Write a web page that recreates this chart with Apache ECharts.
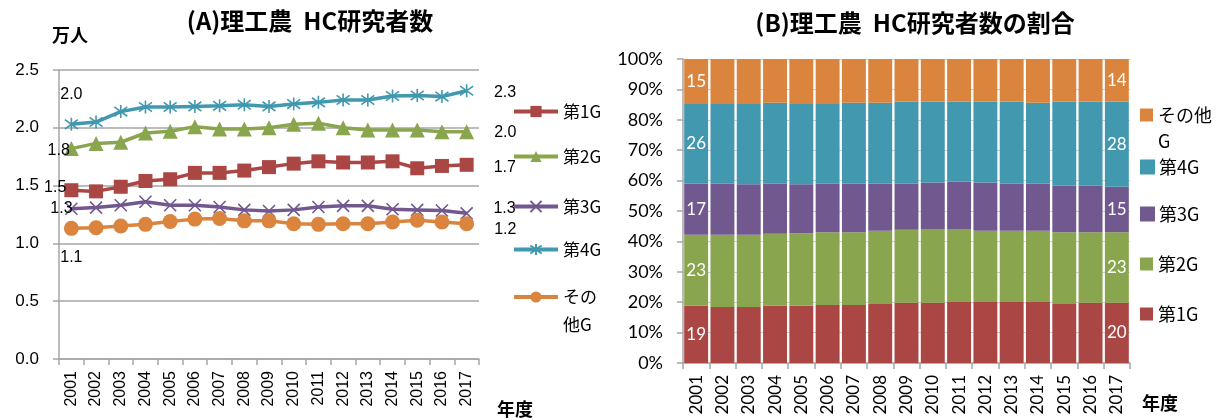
<!DOCTYPE html>
<html><head><meta charset="utf-8">
<script src="https://cdn.jsdelivr.net/npm/echarts@6/dist/echarts.min.js"></script>
<style>html,body{margin:0;padding:0;background:#fff}#c{width:1223px;height:420px}</style>
</head><body><div id="c"></div>
<script>
const years = ['2001','2002','2003','2004','2005','2006','2007','2008','2009','2010','2011','2012','2013','2014','2015','2016','2017'];
// (A) counts, 万人
const g1 = [1.46,1.45,1.49,1.54,1.555,1.61,1.61,1.63,1.66,1.69,1.71,1.70,1.70,1.71,1.65,1.67,1.68];
const g2 = [1.82,1.865,1.875,1.955,1.97,2.01,1.99,1.99,2.0,2.03,2.04,2.0,1.98,1.98,1.98,1.965,1.965];
const g3 = [1.30,1.31,1.33,1.36,1.33,1.33,1.315,1.29,1.28,1.29,1.315,1.325,1.325,1.295,1.29,1.285,1.26];
const g4 = [2.03,2.05,2.14,2.18,2.18,2.185,2.19,2.20,2.185,2.205,2.22,2.24,2.24,2.275,2.28,2.27,2.32];
const gOther = [1.13,1.135,1.15,1.165,1.19,1.21,1.215,1.195,1.195,1.17,1.165,1.17,1.17,1.185,1.2,1.185,1.17];
const yTicksA = [0,0.5,1.0,1.5,2.0,2.5];
// (B) shares, %
const p1 = [18.8,18.4,18.4,18.8,18.8,19.1,19.1,19.4,19.8,19.8,20.1,20.1,20.1,20.1,19.4,19.8,19.8];
const p2 = [23.4,23.8,23.8,23.7,23.9,23.9,23.9,24.1,24.0,24.3,24.0,23.4,23.4,23.4,23.6,23.2,23.2];
const p3 = [16.8,16.8,16.6,16.5,16.1,16.0,16.0,15.5,15.2,15.3,15.5,15.9,15.5,15.5,15.3,15.3,15.0];
const p4 = [26.2,26.2,26.4,26.6,26.4,26.2,26.6,26.6,27.0,26.6,26.4,26.6,27.0,26.6,27.7,27.7,28.0];
const p5 = [14.8,14.8,14.8,14.4,14.8,14.8,14.4,14.4,14.0,14.0,14.0,14.0,14.0,14.4,14.0,14.0,14.0];
const names = ['第1G','第2G','第3G','第4G','その他G'];

const C = {g1:'#AA4643', g2:'#89A54E', g3:'#71588F', g4:'#4198AF', o:'#DB843D'};
const NUM = 'Liberation Sans, Arial, sans-serif';
const JP = 'Noto Sans CJK JP, sans-serif';
const LAT = 'Lato, Liberation Sans, sans-serif';
const last = years.length - 1;

function lineData(arr, firstLbl, lastLbl) {
  return arr.map((v, i) => {
    if (i === 0) return {value: v, label: Object.assign({show: true}, firstLbl)};
    if (i === last) return {value: v, label: Object.assign({show: true}, lastLbl)};
    return v;
  });
}
const lblBase = {color:'#000', fontFamily: NUM, fontSize: 16, formatter: p => p.value.toFixed(1)};
function lineSeries(name, arr, color, symbol, size, firstLbl, lastLbl, extraItem) {
  return {
    name, type:'line', xAxisIndex:0, yAxisIndex:0,
    data: lineData(arr, firstLbl, lastLbl),
    symbol, symbolSize: size, showAllSymbol: true,
    lineStyle: {color, width: 3.5},
    itemStyle: Object.assign({color}, extraItem || {}),
    label: Object.assign({show:false}, lblBase),
    z: 3
  };
}
const xPath = 'path://M0,0L10,10M10,0L0,10';
const starPath = 'path://M0,0L10,10M10,0L0,10M5,-2L5,12';

const series = [
  lineSeries('第1G', g1, C.g1, 'rect', 14, {position:'left', distance:-2, offset:[0,-3]}, {position:'right', distance:20, offset:[0,3]}),
  lineSeries('第2G', g2, C.g2, 'triangle', 15, {position:'left', distance:-6, offset:[0,2]}, {position:'right', distance:20, offset:[0,1]}),
  lineSeries('第3G', g3, C.g3, xPath, 12, {position:'left', distance:-8, offset:[0,0]}, {position:'right', distance:20, offset:[0,-5]}, {borderColor: C.g3, borderWidth: 1.6}),
  lineSeries('第4G', g4, C.g4, starPath, 13, {position:'top', distance:14, offset:[0,0]}, {position:'right', distance:20, offset:[0,2]}, {borderColor: C.g4, borderWidth: 1.6}),
  lineSeries('その他G', gOther, C.o, 'circle', 15, {position:'bottom', distance:14, offset:[0,0]}, {position:'right', distance:20, offset:[0,6]})
];

function barData(arr) {
  return arr.map((v, i) => (i === 0 || i === last) ? {value: v, label: {show: true}} : v);
}
const pArr = [p1,p2,p3,p4,p5];
const bcol = [C.g1, C.g2, C.g3, C.g4, C.o];
pArr.forEach((arr, k) => {
  series.push({
    name: names[k], type:'bar', stack:'share', xAxisIndex:1, yAxisIndex:1,
    data: barData(arr), barCategoryGap: '9%',
    itemStyle: {color: bcol[k]},
    label: {show:false, position:'inside', color:'#fff', fontFamily: LAT, fontSize: 17, formatter: p => Math.round(p.value)}
  });
});

// legends: one component per item for precise placement
const legends = [];
const legA = [['第1G',110],['第2G',155],['第3G',205],['第4G',248]];
legA.forEach(([n, y]) => legends.push({
  data:[n], left: 512, top: y - 7, padding: 0, itemWidth: 44, itemHeight: 14, itemGap: 4,
  lineStyle: {width: 4},
  textStyle: {fontFamily: JP, fontSize: 17, color:'#000'}, selectedMode: false
}));
legends.push({
  data:['その他G'], left: 512, top: 297 - 42, padding: 0, itemWidth: 44, itemHeight: 14, itemGap: 4,
  lineStyle: {width: 4},
  formatter: () => '\nその\n他G',
  textStyle: {fontFamily: JP, fontSize: 17, color:'#000', lineHeight: 28}, selectedMode: false
});
legends.push({
  data:[{name:'その他G', icon:'rect'}], left: 1140, top: 115 - 39, padding: 0, itemWidth: 13, itemHeight: 13, itemGap: 5,
  formatter: () => '\nその他\nG',
  textStyle: {fontFamily: JP, fontSize: 18, color:'#000', lineHeight: 26}, selectedMode: false
});
[['第4G',165],['第3G',212],['第2G',262],['第1G',312]].forEach(([n, y]) => legends.push({
  data:[{name: n, icon:'rect'}], left: 1140, top: y - 7, padding: 0, itemWidth: 13, itemHeight: 13, itemGap: 5,
  textStyle: {fontFamily: JP, fontSize: 18, color:'#000'}, selectedMode: false
}));

const gridLine = '#A6A6A6';
const option = {
  animation: false,
  backgroundColor: '#fff',
  grid: [
    {left: 59, top: 70, width: 420, height: 289},
    {left: 683, top: 59, width: 447, height: 304}
  ],
  legend: legends,
  xAxis: [
    {type:'category', gridIndex:0, data: years, boundaryGap: true,
     axisLine:{lineStyle:{color: gridLine, width:1.5}},
     axisTick:{show:true, interval:0, length:6, lineStyle:{color: gridLine, width:1.5}},
     axisLabel:{interval:0, rotate:90, margin:12, color:'#000', fontFamily: NUM, fontSize: 16}},
    {type:'category', gridIndex:1, data: years, boundaryGap: true,
     axisLine:{lineStyle:{color: gridLine, width:1.5}},
     axisTick:{show:true, interval:0, length:6, lineStyle:{color: gridLine, width:1.5}},
     axisLabel:{interval:0, rotate:90, margin:12, color:'#000', fontFamily: LAT, fontSize: 17}}
  ],
  yAxis: [
    {type:'value', gridIndex:0, min: yTicksA[0], max: yTicksA[yTicksA.length-1], interval: 0.5,
     axisLine:{show:true, lineStyle:{color: gridLine, width:1.5}},
     axisTick:{show:true, length:6, lineStyle:{color: gridLine, width:1.5}},
     splitLine:{show:true, lineStyle:{color: gridLine, width:1.5}},
     axisLabel:{margin:20, color:'#000', fontFamily: NUM, fontSize: 17, formatter: v => v.toFixed(1)}},
    {type:'value', gridIndex:1, min:0, max:100, interval:10,
     axisLine:{show:true, lineStyle:{color: gridLine, width:1.5}},
     axisTick:{show:true, length:6, lineStyle:{color: gridLine, width:1.5}},
     splitLine:{show:true, lineStyle:{color: '#D0D0D0', width:1}},
     axisLabel:{margin:20, color:'#000', fontFamily: LAT, fontSize: 18, formatter: '{value}%'}}
  ],
  graphic: [
    {type:'text', x: 310, y: 21, style:{text:'(A)理工農  HC研究者数', font:'bold 24px "Noto Sans CJK JP"', fill:'#000', align:'center', verticalAlign:'middle'}},
    {type:'text', x: 915, y: 23, style:{text:'(B)理工農  HC研究者数の割合', font:'bold 24px "Noto Sans CJK JP"', fill:'#000', align:'center', verticalAlign:'middle'}},
    {type:'text', x: 52, y: 35, style:{text:'万人', font:'bold 18px "Noto Sans CJK JP"', fill:'#000', align:'left', verticalAlign:'middle'}},
    {type:'text', x: 497, y: 409, style:{text:'年度', font:'bold 18px "Noto Sans CJK JP"', fill:'#000', align:'left', verticalAlign:'middle'}},
    {type:'text', x: 1142, y: 403, style:{text:'年度', font:'bold 18px "Noto Sans CJK JP"', fill:'#000', align:'left', verticalAlign:'middle'}}
  ],
  series
};
const chart = echarts.init(document.getElementById('c'), null, {renderer:'canvas'});
chart.setOption(option);
</script>
</body></html>
